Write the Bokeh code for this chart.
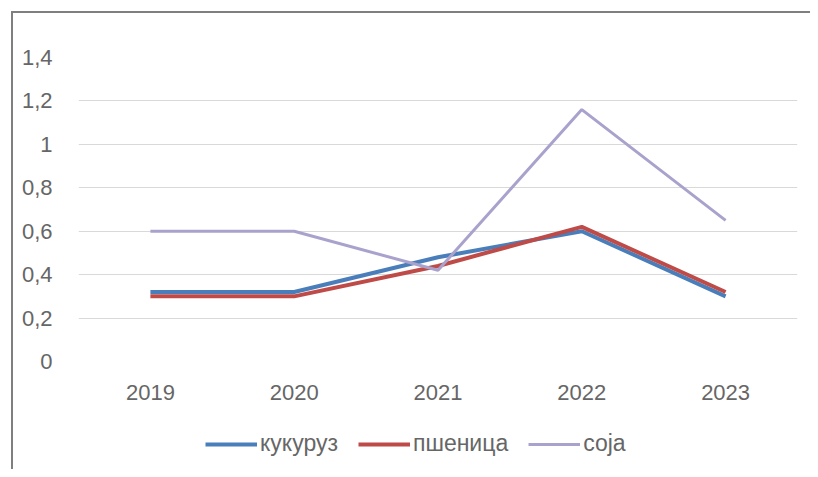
from bokeh.plotting import figure
from bokeh.layouts import column
from bokeh.models import ColumnDataSource, FactorRange, Range1d, FixedTicker, CustomJSTickFormatter, Legend, LegendItem
from bokeh.embed import file_html
from bokeh.resources import INLINE

years = ["2019", "2020", "2021", "2022", "2023"]
kukuruz = [0.32, 0.32, 0.48, 0.60, 0.30]
psenica = [0.30, 0.30, 0.44, 0.62, 0.32]
soja = [0.60, 0.60, 0.42, 1.16, 0.65]
series_names = ["кукуруз", "пшеница", "соја"]
series_colors = ["#4A7EBB", "#BE4B48", "#A9A2CD"]
series_widths = [4, 4, 3]
y_ticks = [0, 0.2, 0.4, 0.6, 0.8, 1.0, 1.2, 1.4]

src = ColumnDataSource(dict(x=years, k=kukuruz, p=psenica, s=soja))
font = "Liberation Sans"
text_color = "#666666"

x_range = FactorRange(*years, range_padding=0)
p = figure(width=797, height=397, x_range=x_range,
           y_range=Range1d(0, 1.4), output_backend="svg", toolbar_location=None,
           min_border_left=65, min_border_right=13, min_border_top=44, min_border_bottom=49)
p.outline_line_color = None
p.background_fill_color = "white"

for col_name, c, w in zip(["k", "p", "s"], series_colors, series_widths):
    p.line("x", col_name, source=src, line_color=c, line_width=w)

p.yaxis.ticker = FixedTicker(ticks=y_ticks)
p.yaxis.formatter = CustomJSTickFormatter(code="const s = (Math.round(tick*10)/10).toString(); return s.replace('.', ',');")
for ax in (p.xaxis[0], p.yaxis[0]):
    ax.axis_line_color = None
    ax.major_tick_line_color = None
    ax.minor_tick_line_color = None
    ax.major_label_text_font = font
    ax.major_label_text_font_size = "22px"
    ax.major_label_text_color = text_color
p.yaxis.major_label_standoff = 20
p.xaxis.major_label_standoff = 17

p.xgrid.grid_line_color = None
p.ygrid.grid_line_color = "#D9D9D9"
p.ygrid.grid_line_width = 1
p.ygrid.ticker = FixedTicker(ticks=y_ticks)

# legend strip below the chart (same series, drawn out of view; only the legend shows)
leg = figure(width=797, height=59, x_range=x_range, y_range=Range1d(10, 11),
             x_axis_type=None, y_axis_type=None, output_backend="svg", toolbar_location=None,
             min_border_left=65, min_border_right=13, min_border_top=0, min_border_bottom=0)
leg.outline_line_color = None
leg.xgrid.grid_line_color = None
leg.ygrid.grid_line_color = None
items = []
for col_name, name, c, w in zip(["k", "p", "s"], series_names, series_colors, series_widths):
    r = leg.line("x", col_name, source=src, line_color=c, line_width=w)
    items.append(LegendItem(label=name, renderers=[r]))
legend = Legend(items=items, orientation="horizontal", location=(127, 12),
                label_text_font=font, label_text_font_size="23px", label_text_color=text_color,
                glyph_width=52, label_standoff=3, spacing=20, border_line_color=None,
                background_fill_alpha=0, margin=0, padding=0)
leg.add_layout(legend, "center")

layout = column(p, leg, spacing=0,
                styles={"border-left": "2px solid #7F7F7F", "border-top": "2px solid #7F7F7F",
                        "margin-left": "11px", "margin-top": "11px"})

open("out.html", "w").write(file_html(layout, INLINE))
